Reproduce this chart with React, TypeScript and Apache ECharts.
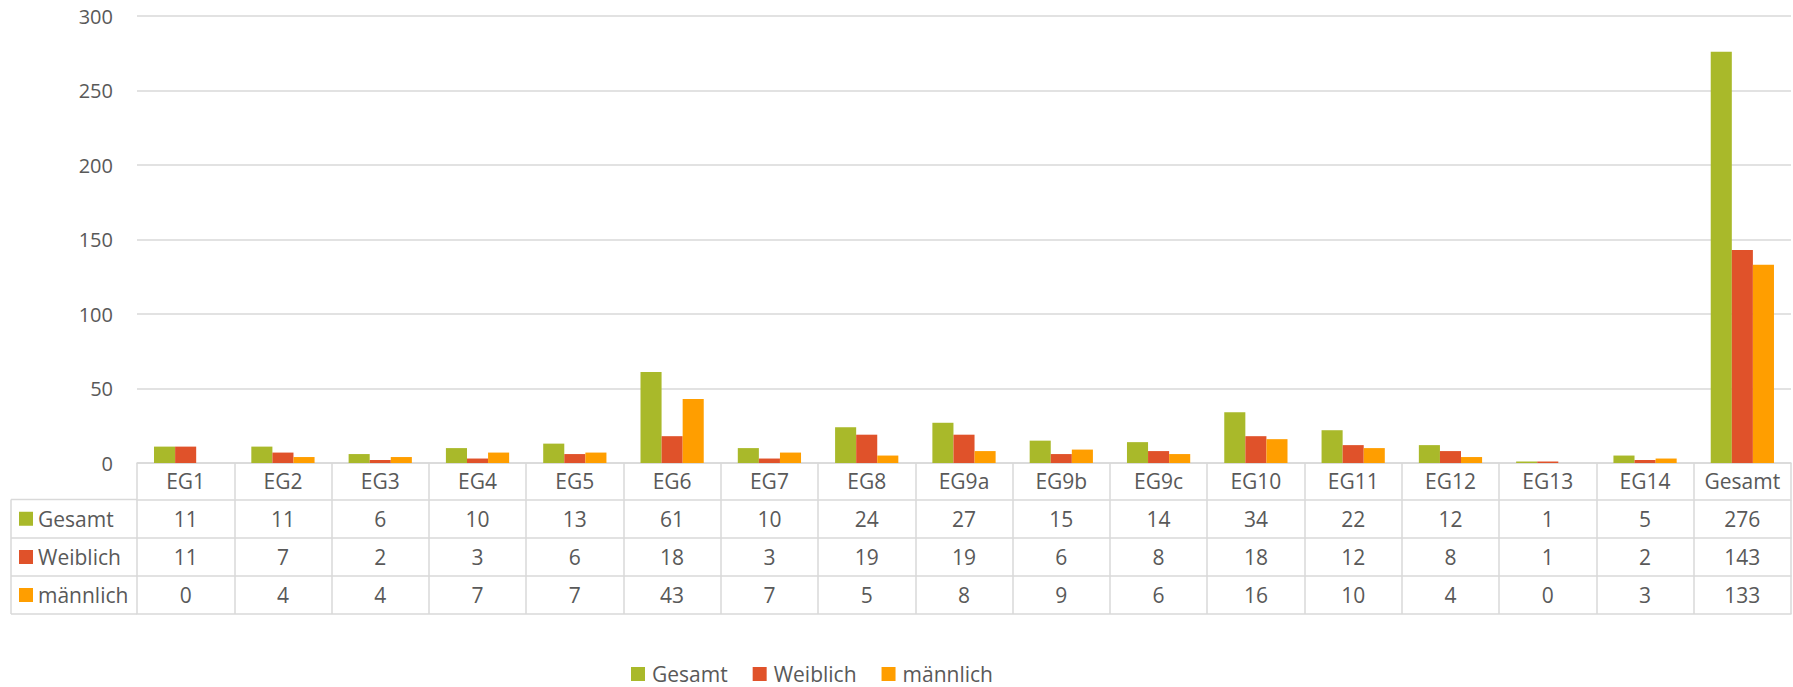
import React, { useEffect, useRef } from "react";
import * as echarts from "echarts";

const categories = ["EG1", "EG2", "EG3", "EG4", "EG5", "EG6", "EG7", "EG8", "EG9a", "EG9b", "EG9c", "EG10", "EG11", "EG12", "EG13", "EG14", "Gesamt"];
const seriesNames = ["Gesamt", "Weiblich", "männlich"];
const gesamt = [11, 11, 6, 10, 13, 61, 10, 24, 27, 15, 14, 34, 22, 12, 1, 5, 276];
const weiblich = [11, 7, 2, 3, 6, 18, 3, 19, 19, 6, 8, 18, 12, 8, 1, 2, 143];
const maennlich = [0, 4, 4, 7, 7, 43, 7, 5, 8, 9, 6, 16, 10, 4, 0, 3, 133];
const yTicks = { min: 0, max: 300, interval: 50 };

const COLORS = ["#A9B92A", "#E0522A", "#FF9E00"];
const TEXT = "#595959";
const LINE = "#D9D9D9";
const FONT = "'Open Sans', sans-serif";

const W = 1793;
const H = 687;
const GRID_LEFT = 137;
const GRID_RIGHT = 2;
const GRID_TOP = 16;
const AXIS_Y = 463;
const TABLE_LEFT = 11;
// row boundaries below axis (offsets from axis line)
const ROW_OFFS = [0, 36.5, 75, 113, 151];

export default function App() {
  const ref = useRef<HTMLDivElement>(null);
  useEffect(() => {
    if (!ref.current) return;
    const chart = echarts.init(ref.current, null, { renderer: "svg" });
    const rows = [gesamt, weiblich, maennlich];

    const xAxes: any[] = [];
    xAxes.push({
      type: "category",
      data: categories,
      position: "bottom",
      gridIndex: 0,
      axisLine: { show: true, lineStyle: { color: LINE, width: 1.5 } },
      axisTick: { show: true, interval: 0, length: ROW_OFFS[1], lineStyle: { color: LINE, width: 1.5 } },
      axisLabel: {
        interval: 0,
        verticalAlign: "middle",
        margin: ROW_OFFS[1] / 2,
        color: TEXT,
        fontSize: 21,
        fontFamily: FONT,
      },
    });
    rows.forEach((vals, i) => {
      const off = ROW_OFFS[i + 1];
      const h = ROW_OFFS[i + 2] - off;
      xAxes.push({
        type: "category",
        data: vals.map((v) => String(v)),
        position: "bottom",
        gridIndex: 0,
        offset: off,
        axisLine: { show: true, lineStyle: { color: LINE, width: 1.5 } },
        axisTick: { show: true, interval: 0, length: h, lineStyle: { color: LINE, width: 1.5 } },
        axisLabel: {
          interval: 0,
          verticalAlign: "middle",
          margin: h / 2,
          color: TEXT,
          fontSize: 21,
          fontFamily: FONT,
        },
      });
    });
    xAxes.push({
      type: "category",
      data: categories,
      position: "bottom",
      gridIndex: 0,
      offset: ROW_OFFS[4],
      axisLine: { show: true, lineStyle: { color: LINE, width: 1.5 } },
      axisTick: { show: false },
      axisLabel: { show: false },
    });

    const graphics: any[] = [];
    for (let r = 1; r <= 4; r++) {
      graphics.push({
        type: "line",
        shape: { x1: TABLE_LEFT, y1: AXIS_Y + ROW_OFFS[r], x2: GRID_LEFT, y2: AXIS_Y + ROW_OFFS[r] },
        style: { stroke: LINE, lineWidth: 1.5 },
      });
    }
    graphics.push({
      type: "line",
      shape: { x1: TABLE_LEFT, y1: AXIS_Y + ROW_OFFS[1], x2: TABLE_LEFT, y2: AXIS_Y + ROW_OFFS[4] },
      style: { stroke: LINE, lineWidth: 1.5 },
    });
    seriesNames.forEach((name, i) => {
      const cy = AXIS_Y + (ROW_OFFS[i + 1] + ROW_OFFS[i + 2]) / 2;
      graphics.push({
        type: "rect",
        shape: { x: 19, y: cy - 7, width: 14, height: 14 },
        style: { fill: COLORS[i] },
      });
      graphics.push({
        type: "text",
        x: 38,
        y: cy,
        style: {
          text: name,
          fill: TEXT,
          font: `21px ${FONT}`,
          verticalAlign: "middle",
          align: "left",
        },
      });
    });

    chart.setOption({
      animation: false,
      textStyle: { fontFamily: FONT, color: TEXT },
      grid: {
        left: GRID_LEFT,
        right: GRID_RIGHT,
        top: GRID_TOP,
        bottom: H - AXIS_Y,
        containLabel: false,
      },
      legend: {
        data: seriesNames,
        left: 631,
        top: 663,
        padding: 0,
        icon: "rect",
        itemWidth: 14,
        itemHeight: 14,
        itemGap: 25,
        textStyle: { color: TEXT, fontSize: 21, lineHeight: 22, fontFamily: FONT, padding: [0, 0, 0, 2] },
      },
      xAxis: xAxes,
      yAxis: {
        type: "value",
        min: yTicks.min,
        max: yTicks.max,
        interval: yTicks.interval,
        axisLine: { show: false },
        axisTick: { show: false },
        splitLine: { lineStyle: { color: LINE, width: 1.5 } },
        axisLabel: { color: TEXT, fontSize: 20, fontFamily: FONT, margin: 24 },
      },
      graphic: graphics,
      series: [
        { name: seriesNames[0], type: "bar", data: gesamt, xAxisIndex: 0, itemStyle: { color: COLORS[0] }, barGap: "0%", barCategoryGap: "35%" },
        { name: seriesNames[1], type: "bar", data: weiblich, xAxisIndex: 0, itemStyle: { color: COLORS[1] }, barGap: "0%", barCategoryGap: "35%" },
        { name: seriesNames[2], type: "bar", data: maennlich, xAxisIndex: 0, itemStyle: { color: COLORS[2] }, barGap: "0%", barCategoryGap: "35%" },
      ],
    });
    return () => chart.dispose();
  }, []);
  return (
    <div
      ref={ref}
      style={{ position: "fixed", left: 0, top: 0, width: W, height: H, background: "#fff" }}
    />
  );
}
